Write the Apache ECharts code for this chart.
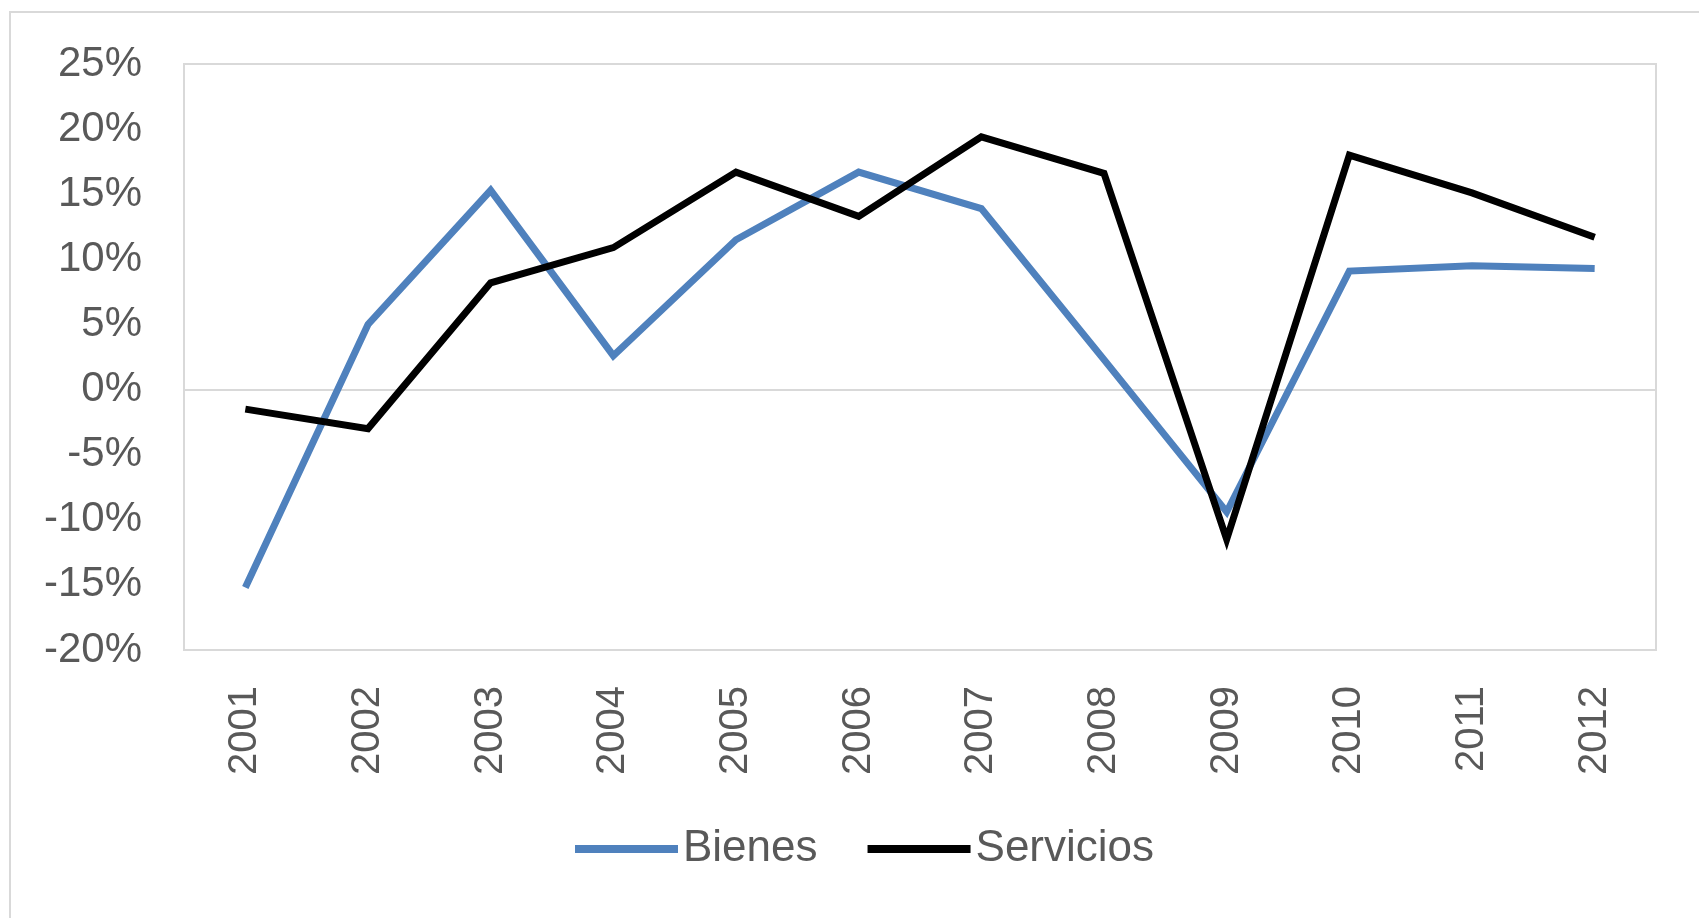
<!DOCTYPE html>
<html>
<head>
<meta charset="utf-8">
<script src="https://cdn.jsdelivr.net/npm/echarts@6/dist/echarts.min.js"></script>
<style>
html,body{margin:0;padding:0;background:#fff;}
#chart{width:1699px;height:918px;}
</style>
</head>
<body>
<div id="chart"></div>
<script>
const years = ['2001','2002','2003','2004','2005','2006','2007','2008','2009','2010','2011','2012'];
const bienes = [-15.2, 5.0, 15.3, 2.6, 11.5, 16.7, 13.9, 2.3, -9.4, 9.1, 9.5, 9.3];
const servicios = [-1.5, -3.0, 8.2, 10.9, 16.7, 13.3, 19.4, 16.6, -11.5, 18.0, 15.1, 11.7];
const seriesNames = ['Bienes', 'Servicios'];
const yTicks = [-20, -15, -10, -5, 0, 5, 10, 15, 20, 25];

const FONT = '"Liberation Sans", Arial, sans-serif';
const TXT = '#595959';
const GRIDC = '#d9d9d9';

const chart = echarts.init(document.getElementById('chart'));
chart.setOption({
  animation: false,
  backgroundColor: '#fff',
  graphic: [{
    type: 'rect',
    shape: {x: 10, y: 12, width: 1800, height: 1000},
    style: {fill: 'none', stroke: GRIDC, lineWidth: 2},
    silent: true
  }],
  grid: {
    left: 184, top: 64, right: 43, bottom: 268,
    show: true, borderColor: GRIDC, borderWidth: 2, backgroundColor: 'transparent'
  },
  legend: {
    data: seriesNames,
    left: 570, top: 822,
    icon: 'rect',
    itemWidth: 103, itemHeight: 8,
    itemGap: 50,
    textStyle: {fontFamily: FONT, fontSize: 44, color: TXT, padding: [0, 0, 0, 0]}
  },
  xAxis: {
    type: 'category',
    data: years,
    boundaryGap: true,
    axisLine: {show: false},
    axisTick: {show: false},
    axisLabel: {rotate: 90, margin: 36, fontFamily: FONT, fontSize: 40, color: TXT}
  },
  yAxis: {
    type: 'value',
    min: yTicks[0], max: yTicks[yTicks.length - 1], interval: 5,
    axisLine: {show: false},
    axisTick: {show: false},
    axisLabel: {formatter: '{value}%', margin: 42, fontFamily: FONT, fontSize: 42, color: TXT},
    splitLine: {
      show: true,
      lineStyle: {
        width: 2,
        color: yTicks.map(v => v === 0 ? GRIDC : 'rgba(0,0,0,0)')
      }
    }
  },
  series: [
    {
      name: seriesNames[0], type: 'line', data: bienes,
      symbol: 'none',
      itemStyle: {color: '#4f81bd'},
      lineStyle: {color: '#4f81bd', width: 7, join: 'miter', cap: 'butt'}
    },
    {
      name: seriesNames[1], type: 'line', data: servicios,
      symbol: 'none',
      itemStyle: {color: '#000000'},
      lineStyle: {color: '#000000', width: 7, join: 'miter', cap: 'butt'}
    }
  ]
});
</script>
</body>
</html>
